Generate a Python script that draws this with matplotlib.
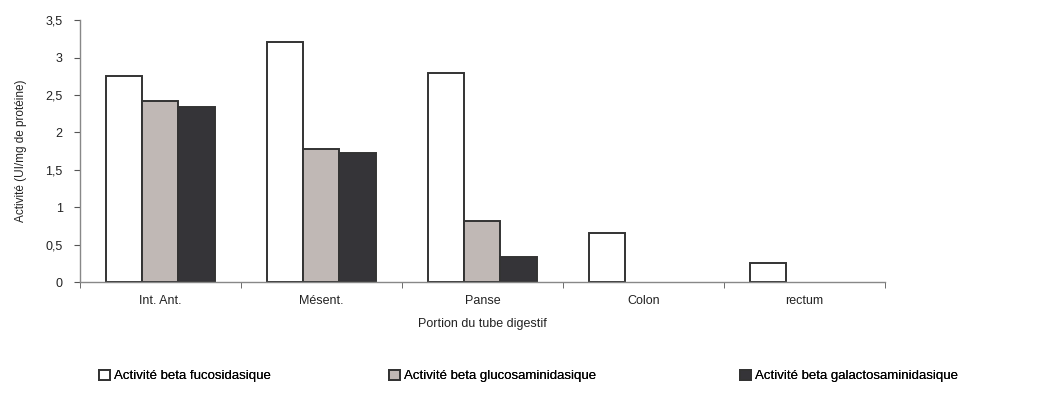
import numpy as np
import matplotlib.pyplot as plt
from matplotlib.ticker import FuncFormatter

plt.rcParams['font.family'] = ['Liberation Sans', 'DejaVu Sans']

portions = ["Int. Ant.", "Mésent.", "Panse", "Colon", "rectum"]
fucosidase = [2.76, 3.21, 2.79, 0.65, 0.26]
glucosaminidase = [2.42, 1.78, 0.81, 0, 0]
galactosaminidase = [2.34, 1.73, 0.34, 0, 0]
noms = ["Activité beta fucosidasique",
        "Activité beta glucosaminidasique",
        "Activité beta galactosaminidasique"]
couleurs = ["#ffffff", "#c0b8b5", "#353438"]

fig = plt.figure(figsize=(10.44, 4.03), dpi=100)
ax = fig.add_axes([0.0766, 0.30, 0.771, 0.65])

x = np.arange(len(portions))
w = 0.224
series = [fucosidase, glucosaminidase, galactosaminidase]
barres_leg = []
for i, (vals, nom, c) in enumerate(zip(series, noms, couleurs)):
    hauteurs = np.array(vals, dtype=float)
    barres = ax.bar(x + (i - 1) * w, hauteurs, w, color=c, edgecolor="#333333",
                    linewidth=1.4, label=nom)
    # pas de contour pour les valeurs nulles
    for b, h in zip(barres, hauteurs):
        if h == 0:
            b.set_linewidth(0)
    barres_leg.append(barres)

ax.set_xlim(-0.5, len(portions) - 0.5)
ax.set_ylim(0, 3.5)
ax.set_yticks(np.arange(0, 3.51, 0.5))
ax.yaxis.set_major_formatter(FuncFormatter(lambda v, p: f"{v:g}".replace(".", ",")))

ax.set_xticks(x)
ax.set_xticklabels(portions)
ax.set_xticks(np.arange(-0.5, len(portions)), minor=True)
ax.tick_params(axis='x', which='major', length=0, pad=9, labelsize=9, colors="#222222")
ax.tick_params(axis='x', which='minor', length=4, direction='out', color="#555555")
ax.tick_params(axis='y', length=4, direction='out', color="#555555", labelsize=9,
               labelcolor="#222222", pad=8.5)

for s in ["top", "right"]:
    ax.spines[s].set_visible(False)
for s in ["left", "bottom"]:
    ax.spines[s].set_color("#888888")
    ax.spines[s].set_linewidth(1.0)

ax.set_xlabel("Portion du tube digestif", fontsize=9, labelpad=8, color="#222222")
ax.set_ylabel("Activité (UI/mg de protéine)", fontsize=8.5, labelpad=13, color="#222222")

# une légende par entrée pour placer chaque case comme sur l'original
positions_leg = [0.095, 0.373, 0.709]
for barres, nom, xp in zip(barres_leg, noms, positions_leg):
    leg = fig.legend([barres[0]], [nom], loc='center left', bbox_to_anchor=(xp, 0.067),
                     frameon=False, fontsize=9.5, handlelength=0.8, handleheight=0.8,
                     handletextpad=0.3, borderaxespad=0, borderpad=0)
    fig.add_artist(leg)

fig.savefig("out.png", dpi=100)
